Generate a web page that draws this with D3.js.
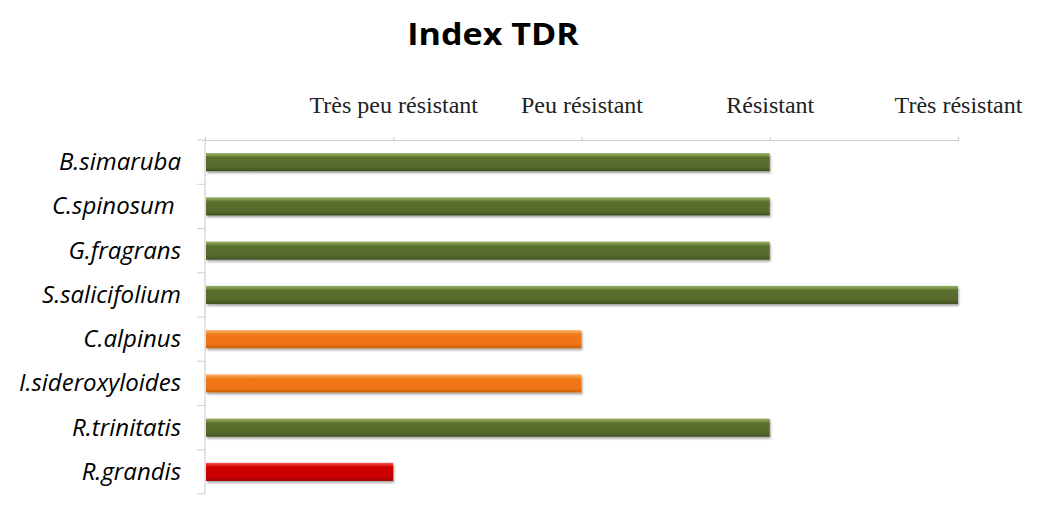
<!DOCTYPE html>
<html>
<head>
<meta charset="utf-8">
<script src="https://cdn.jsdelivr.net/npm/d3@7"></script>
<style>
  html, body { margin: 0; padding: 0; background: #fff; }
  svg { display: block; }
</style>
</head>
<body>
<svg id="chart" width="1051" height="513"></svg>
<script>
// Species and their TDR resistance class (1 = very low ... 4 = very high)
const species = ["B.simaruba", "C.spinosum ", "G.fragrans", "S.salicifolium",
                 "C.alpinus", "I.sideroxyloides", "R.trinitatis", "R.grandis"];
const tdrIndex = [3, 3, 3, 4, 2, 2, 3, 1];
const tickValues = [0, 1, 2, 3, 4];
const tickLabels = ["", "Très peu résistant", "Peu résistant", "Résistant", "Très résistant"];
const classColors = { 1: "red", 2: "orange", 3: "green", 4: "green" };

const svg = d3.select("#chart");
const margin = { top: 140, left: 205, right: 93, bottom: 19 };
const W = 1051, H = 513;

const x = d3.scaleLinear().domain([0, 4]).range([margin.left, W - margin.right]);
const y = d3.scaleBand().domain(species).range([margin.top, H - margin.bottom]).paddingInner(0.59).paddingOuter(0.295);
const yBand = d3.scaleBand().domain(species).range([margin.top, H - margin.bottom]);

// Gradients giving the bars a bevelled look
const defs = svg.append("defs");
const palettes = {
  green:  [["0%", "#9bb06c"], ["14%", "#7d9448"], ["24%", "#5c702f"], ["80%", "#56692b"], ["100%", "#3f4e1e"]],
  orange: [["0%", "#fbb274"], ["14%", "#f7953e"], ["24%", "#f17815"], ["80%", "#ef7312"], ["100%", "#c85e0c"]],
  red:    [["0%", "#f25a5a"], ["14%", "#e42020"], ["24%", "#cf0202"], ["80%", "#c80000"], ["100%", "#9a0000"]]
};
Object.entries(palettes).forEach(([name, stops]) => {
  const g = defs.append("linearGradient").attr("id", "grad-" + name)
    .attr("x1", 0).attr("y1", 0).attr("x2", 0).attr("y2", 1);
  stops.forEach(([o, c]) => g.append("stop").attr("offset", o).attr("stop-color", c));
});
const shadow = defs.append("filter").attr("id", "shadow")
  .attr("x", "-2%").attr("y", "-20%").attr("width", "104%").attr("height", "160%");
shadow.append("feGaussianBlur").attr("in", "SourceAlpha").attr("stdDeviation", 1.2).attr("result", "b");
shadow.append("feOffset").attr("in", "b").attr("dx", 0.5).attr("dy", 1.5).attr("result", "o");
shadow.append("feComponentTransfer").attr("in", "o").attr("result", "s")
  .append("feFuncA").attr("type", "linear").attr("slope", 0.35);
const merge = shadow.append("feMerge");
merge.append("feMergeNode").attr("in", "s");
merge.append("feMergeNode").attr("in", "SourceGraphic");

// Title (slightly widened glyphs)
svg.append("text")
  .attr("transform", "translate(493,45) scale(1.1,1)")
  .attr("text-anchor", "middle")
  .style("font-family", "'Open Sans', 'DejaVu Sans', sans-serif")
  .style("font-weight", "bold")
  .style("font-size", "31px")
  .attr("fill", "#000")
  .text("Index TDR");

// Top axis
const xAxis = d3.axisTop(x).tickValues(tickValues).tickSize(3).tickFormat((d, i) => tickLabels[i]);
const gx = svg.append("g").attr("transform", `translate(0,${margin.top})`).call(xAxis);
gx.select(".domain").attr("stroke", "#d0d0d0").attr("stroke-width", 1.2);
gx.selectAll(".tick line").attr("stroke", "#c8c8c8");
gx.selectAll(".tick text")
  .attr("y", -27)
  .style("font-family", "'Liberation Serif', 'DejaVu Serif', serif")
  .style("font-size", "24px")
  .attr("fill", "#222");

// Left axis: line with ticks at band boundaries
const gy = svg.append("g");
gy.append("line")
  .attr("x1", margin.left).attr("x2", margin.left)
  .attr("y1", margin.top).attr("y2", H - margin.bottom)
  .attr("stroke", "#d0d0d0").attr("stroke-width", 1.2);
gy.selectAll("line.tk")
  .data(species.map(s => yBand(s)).concat([H - margin.bottom]))
  .join("line").attr("class", "tk")
  .attr("x1", margin.left - 8).attr("x2", margin.left)
  .attr("y1", d => d).attr("y2", d => d)
  .attr("stroke", "#d0d0d0").attr("stroke-width", 1);

// Category labels
svg.append("g").selectAll("text")
  .data(species)
  .join("text")
  .attr("x", 181)
  .attr("y", d => yBand(d) + yBand.bandwidth() / 2 + 8)
  .attr("text-anchor", "end")
  .attr("xml:space", "preserve")
  .style("white-space", "pre")
  .style("font-family", "'Open Sans', 'DejaVu Sans', sans-serif")
  .style("font-style", "italic")
  .style("font-size", "24px")
  .attr("fill", "#000")
  .text(d => d);

// Bars
svg.append("g").selectAll("rect")
  .data(species.map((s, i) => ({ s, v: tdrIndex[i] })))
  .join("rect")
  .attr("x", x(0) + 1)
  .attr("y", d => y(d.s))
  .attr("width", d => x(d.v) - x(0) - 1)
  .attr("height", y.bandwidth())
  .attr("fill", d => `url(#grad-${classColors[d.v]})`)
  .attr("filter", "url(#shadow)");
</script>
</body>
</html>
